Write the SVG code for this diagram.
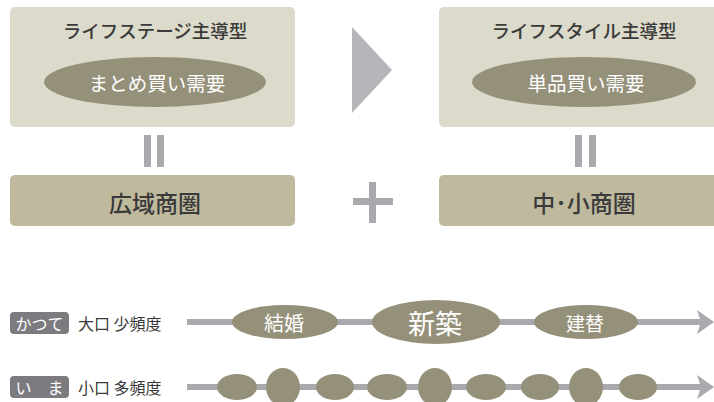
<svg xmlns="http://www.w3.org/2000/svg" width="714" height="402" viewBox="0 0 714 402">
<style>
text{font-family:"Noto Sans CJK JP","Noto Sans",sans-serif;text-anchor:middle;dominant-baseline:central;font-weight:500}
.box{fill:#dcdacb}
.base{fill:#bfb99e}
.ov{fill:#959079}
.title{font-size:18.5px;fill:#3a3a3a}
.wt{fill:#ffffff;font-weight:400}
.dark{fill:#3a3a3a}
.bar{fill:#a9a9ae}
.chev{fill:#b5b6ba}
.line{stroke:#a9a9ae;stroke-width:6;fill:none}
.badge{fill:#7c7b7f}
.lbl{font-size:16px;fill:#3a3a3a;text-anchor:start;font-weight:400}
</style>
<rect width="714" height="402" fill="#ffffff"/>

<g id="lifestage">
<rect class="box" x="10" y="7" width="285" height="120" rx="5"/>
<text class="title" x="155" y="30">ライフステージ主導型</text>
<ellipse class="ov" cx="155" cy="82" rx="111" ry="25"/>
<text class="wt" x="157" y="82" font-size="19.5">まとめ買い需要</text>
</g>
<g id="lifestyle">
<rect class="box" x="439" y="7" width="285" height="120" rx="5"/>
<text class="title" x="584" y="30">ライフスタイル主導型</text>
<ellipse class="ov" cx="584" cy="82" rx="112" ry="25"/>
<text class="wt" x="586" y="82" font-size="19.5">単品買い需要</text>
</g>
<g id="wide">
<rect class="base" x="10" y="175" width="285" height="51" rx="5"/>
<text class="dark" x="155" y="202" font-size="23">広域商圏</text>
</g>
<g id="small">
<rect class="base" x="439" y="175" width="285" height="51" rx="5"/>
<text class="dark" x="584" y="202" font-size="23">中･小商圏</text>
</g>

<g id="connectors">
<polygon class="chev" points="352,27 392,70 352,113"/>
<rect class="bar" x="144" y="135" width="7" height="32"/>
<rect class="bar" x="157" y="135" width="7" height="32"/>
<rect class="bar" x="575" y="135" width="7" height="32"/>
<rect class="bar" x="589" y="135" width="7" height="32"/>
<rect class="bar" x="353" y="198" width="40" height="7"/>
<rect class="bar" x="369" y="182" width="7" height="41"/>
<line class="line" x1="187" y1="322" x2="702" y2="322"/>
<polygon class="bar" points="697,310 714,322 697,334 701,322"/>
<line class="line" x1="187" y1="387" x2="702" y2="387"/>
<polygon class="bar" points="697,375 714,387 697,399 701,387"/>
</g>

<g id="past">
<rect class="badge" x="10" y="312" width="59" height="22" rx="4"/>
<text class="wt" x="39.5" y="323" font-size="16">かつて</text>
<text class="lbl" x="78" y="323">大口 少頻度</text>
</g>
<g id="now">
<rect class="badge" x="10" y="376" width="59" height="22" rx="4"/>
<text class="wt" x="39.5" y="387" font-size="16">い　ま</text>
<text class="lbl" x="78" y="387">小口 多頻度</text>
</g>

<g id="marriage">
<ellipse class="ov" cx="285" cy="322" rx="53" ry="17"/>
<text class="wt" x="284" y="322" font-size="20">結婚</text>
</g>
<g id="newbuild">
<ellipse class="ov" cx="436" cy="322" rx="64" ry="22"/>
<text class="wt" x="435" y="322" font-size="27">新築</text>
</g>
<g id="rebuild">
<ellipse class="ov" cx="586" cy="322" rx="52" ry="17"/>
<text class="wt" x="585" y="322" font-size="19">建替</text>
</g>

<g id="dots">
<ellipse class="ov" cx="237" cy="387" rx="20" ry="13"/>
<ellipse class="ov" cx="283" cy="387" rx="17" ry="19"/>
<ellipse class="ov" cx="335" cy="387" rx="19" ry="13"/>
<ellipse class="ov" cx="387" cy="387" rx="20" ry="13"/>
<ellipse class="ov" cx="435" cy="387" rx="17" ry="19"/>
<ellipse class="ov" cx="486" cy="387" rx="20" ry="13"/>
<ellipse class="ov" cx="540" cy="387" rx="19" ry="13"/>
<ellipse class="ov" cx="586" cy="387" rx="17" ry="19"/>
<ellipse class="ov" cx="638" cy="387" rx="19" ry="13"/>
</g>
</svg>
